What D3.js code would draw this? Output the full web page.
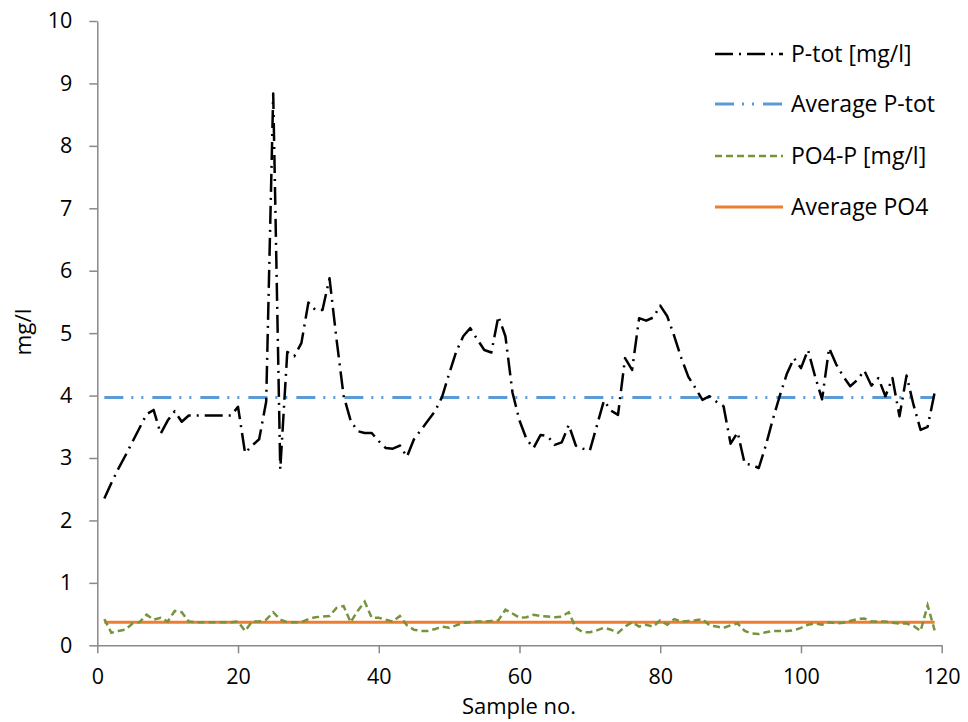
<!DOCTYPE html>
<html>
<head>
<meta charset="utf-8">
<script src="https://cdn.jsdelivr.net/npm/d3@7"></script>
<style>
  html, body { margin: 0; padding: 0; background: #fff; }
  svg { display: block; font-family: "Open Sans", Lato, sans-serif; }
</style>
</head>
<body>
<svg id="chart" width="968" height="722"></svg>
<script>
// Total phosphorus per sample (mg/l), samples 1..119
const ptot = [
  2.35, 2.6, 2.83, 3.04, 3.26, 3.48, 3.7, 3.77, 3.39, 3.6,
  3.75, 3.58, 3.68, 3.68, 3.68, 3.68, 3.68, 3.68, 3.68, 3.82,
  3.08, 3.2, 3.3, 3.9, 8.84, 2.82, 4.7, 4.63, 4.84, 5.49,
  5.37, 5.37, 5.88, 4.9, 4.0, 3.6, 3.43, 3.4, 3.4, 3.27,
  3.16, 3.15, 3.2, 3.02, 3.3, 3.45, 3.6, 3.75, 3.98, 4.35,
  4.7, 4.95, 5.08, 4.9, 4.73, 4.69, 5.27, 4.95, 4.05, 3.6,
  3.3, 3.16, 3.37, 3.35, 3.21, 3.25, 3.53, 3.2, 3.15, 3.12,
  3.52, 3.92, 3.76, 3.69, 4.6, 4.41, 5.24, 5.2, 5.25, 5.44,
  5.27, 4.95, 4.6, 4.3, 4.12, 3.93, 3.99, 3.9, 3.83, 3.23,
  3.41, 2.91, 2.89, 2.84, 3.2, 3.62, 4.0, 4.35, 4.6, 4.44,
  4.73, 4.31, 3.94, 4.76, 4.5, 4.31, 4.15, 4.25, 4.4, 4.16,
  4.28, 3.99, 4.28, 3.67, 4.32, 3.85, 3.45, 3.5, 4.05
];

// Orthophosphate phosphorus per sample (mg/l)
const po4 = [
  0.42, 0.2, 0.23, 0.25, 0.35, 0.37, 0.49, 0.41, 0.44, 0.38,
  0.55, 0.53, 0.38, 0.37, 0.37, 0.37, 0.37, 0.37, 0.37, 0.38,
  0.23, 0.38, 0.38, 0.41, 0.53, 0.41, 0.37, 0.37, 0.37, 0.42,
  0.45, 0.46, 0.47, 0.6, 0.63, 0.37, 0.55, 0.7, 0.44, 0.44,
  0.41, 0.38, 0.47, 0.32, 0.25, 0.23, 0.23, 0.26, 0.3, 0.28,
  0.32, 0.36, 0.37, 0.38, 0.38, 0.39, 0.4, 0.57, 0.51, 0.44,
  0.45, 0.49, 0.47, 0.46, 0.45, 0.46, 0.53, 0.28, 0.21, 0.21,
  0.24, 0.28, 0.25, 0.2, 0.3, 0.37, 0.3, 0.33, 0.3, 0.4,
  0.33, 0.42, 0.38, 0.39, 0.4, 0.42, 0.32, 0.3, 0.28, 0.32,
  0.35, 0.23, 0.19, 0.18, 0.21, 0.23, 0.23, 0.23, 0.24, 0.28,
  0.33, 0.35, 0.33, 0.37, 0.35, 0.36, 0.39, 0.42, 0.43, 0.38,
  0.38, 0.38, 0.36, 0.35, 0.35, 0.31, 0.23, 0.64, 0.24
];

const avgPtot = 3.97;
const avgPo4 = 0.37;

const xTicks = [0, 20, 40, 60, 80, 100, 120];
const yTicks = [0, 1, 2, 3, 4, 5, 6, 7, 8, 9, 10];

const seriesNames = ["P-tot [mg/l]", "Average P-tot", "PO4-P [mg/l]", "Average PO4"];
const seriesColors = ["#000000", "#5B9BD5", "#77933C", "#ED7D31"];
const seriesDash = ["18,6,2,6", "19,8,2,8,2,9", "7,4", null];

const svg = d3.select("#chart");
const axisColor = "#898989";
const fontFamily = "'Open Sans', Lato, sans-serif";

const x = d3.scaleLinear().domain([0, 120]).range([97.3, 941.7]);
const y = d3.scaleLinear().domain([0, 10]).range([645.3, 21]);

// Axes
const gx = svg.append("g")
  .attr("transform", `translate(0,${y(0)})`)
  .call(d3.axisBottom(x).tickValues(xTicks).tickSize(8).tickSizeOuter(0).tickPadding(15));
const gy = svg.append("g")
  .attr("transform", `translate(${x(0)},0)`)
  .call(d3.axisLeft(y).tickValues(yTicks).tickSize(8).tickSizeOuter(0).tickPadding(17));

[gx, gy].forEach(g => {
  g.selectAll("path.domain").attr("stroke", axisColor).attr("stroke-width", 1.5);
  g.selectAll(".tick line").attr("stroke", axisColor).attr("stroke-width", 1.5);
  g.selectAll(".tick text").attr("fill", "#000").style("font-size", "21.5px")
    .style("font-family", fontFamily);
});

// Axis titles
svg.append("text")
  .attr("x", 519).attr("y", 714)
  .attr("text-anchor", "middle")
  .style("font-size", "22px")
  .text("Sample no.");

svg.append("text")
  .attr("transform", "translate(31,332) rotate(-90)")
  .attr("text-anchor", "middle")
  .style("font-size", "22.5px")
  .text("mg/l");

const line = d3.line()
  .x((d, i) => x(i + 1))
  .y(d => y(d));

const avgLine = (v, n) => [{ i: 1, v }, { i: n, v }];
const lineXY = d3.line().x(d => x(d.i)).y(d => y(d.v));

const plot = svg.append("g");

// Orange average PO4 (drawn beneath the dashed PO4 series)
plot.append("path")
  .datum(avgLine(avgPo4, po4.length))
  .attr("d", lineXY)
  .attr("fill", "none")
  .attr("stroke", seriesColors[3])
  .attr("stroke-width", 3);

plot.append("path")
  .datum(po4)
  .attr("d", line)
  .attr("fill", "none")
  .attr("stroke", seriesColors[2])
  .attr("stroke-width", 2.5)
  .attr("stroke-dasharray", seriesDash[2]);

plot.append("path")
  .datum(avgLine(avgPtot, ptot.length))
  .attr("d", lineXY)
  .attr("fill", "none")
  .attr("stroke", seriesColors[1])
  .attr("stroke-width", 3)
  .attr("stroke-dasharray", seriesDash[1]);

plot.append("path")
  .datum(ptot)
  .attr("d", line)
  .attr("fill", "none")
  .attr("stroke", seriesColors[0])
  .attr("stroke-width", 2.5)
  .attr("stroke-linejoin", "round")
  .attr("stroke-dasharray", seriesDash[0]);

// Legend
const legendRows = [54, 104, 156, 207];
const legend = svg.append("g");
seriesNames.forEach((name, k) => {
  const row = legend.append("g").attr("transform", `translate(0,${legendRows[k]})`);
  row.append("line")
    .attr("x1", 715).attr("x2", 783).attr("y1", 0).attr("y2", 0)
    .attr("stroke", seriesColors[k])
    .attr("stroke-width", k === 1 || k === 3 ? 3 : 2.5)
    .attr("stroke-dasharray", seriesDash[k]);
  row.append("text")
    .attr("x", 791).attr("y", 0)
    .attr("dy", "0.35em")
    .style("font-size", "23px")
    .text(name);
});
</script>
</body>
</html>
